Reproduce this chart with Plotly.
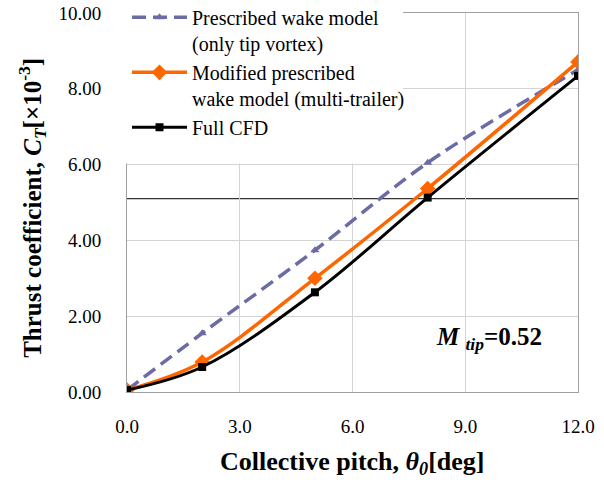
import plotly.graph_objects as go

pitch = [0.0, 2.0, 5.0, 8.0, 12.0]
ct_prescribed = [0.05, 1.55, 3.74, 6.05, 8.50]
ct_modified = [0.05, 0.79, 3.00, 5.37, 8.71]
ct_full_cfd = [0.05, 0.66, 2.63, 5.13, 8.34]
ref_line_ct = 5.10

x_ticks = [0, 3, 6, 9, 12]
y_ticks = [0, 2, 4, 6, 8, 10]

FONT = "Liberation Serif"

fig = go.Figure()
fig.add_trace(go.Scatter(
    x=pitch, y=ct_prescribed, mode="lines+markers",
    name="Prescribed wake model<br>(only tip vortex)",
    line=dict(color="#6b6ba6", width=3.5, dash="14px,7px", shape="spline", smoothing=1),
    marker=dict(symbol="triangle-up", size=8, color="#6b6ba6"),
))
fig.add_trace(go.Scatter(
    x=pitch, y=ct_modified, mode="lines+markers",
    name="Modified prescribed<br>wake model (multi-trailer)",
    line=dict(color="#ff6600", width=3.5, shape="spline", smoothing=1),
    marker=dict(symbol="diamond", size=12, color="#ff6600"),
))
fig.add_trace(go.Scatter(
    x=pitch, y=ct_full_cfd, mode="lines+markers",
    name="Full CFD",
    line=dict(color="#000000", width=3, shape="spline", smoothing=1),
    marker=dict(symbol="square", size=8, color="#000000"),
))

# white cover behind the legend (hides grid/frame like the original)
fig.add_shape(type="rect", xref="paper", yref="paper",
              x0=-0.01, x1=0.612, y0=0.603, y1=1.05,
              fillcolor="white", line=dict(width=0), layer="above")
# horizontal reference line
fig.add_shape(type="line", xref="paper", yref="y",
              x0=0, x1=1, y0=ref_line_ct, y1=ref_line_ct,
              line=dict(color="black", width=1), layer="below")

fig.add_annotation(
    x=9.62, y=1.4, xref="x", yref="y", showarrow=False,
    text="<b><i>M</i></b> <sub><b><i>tip</i></b></sub><b>=0.52</b>",
    font=dict(family=FONT, size=25, color="black"),
)
# axis titles
fig.add_annotation(
    x=0.5, y=-0.187, xref="paper", yref="paper", showarrow=False,
    xanchor="center", yanchor="middle",
    text="<b>Collective pitch, <i>θ</i></b><sub><b><i>0</i></b></sub><b>[deg]</b>",
    font=dict(family=FONT, size=26, color="black"),
)
fig.add_annotation(
    x=-0.2106, y=0.486, xref="paper", yref="paper", showarrow=False,
    xanchor="center", yanchor="middle", textangle=-90,
    text="<b>Thrust coefficient, <i>C</i></b><sub><b><i>T</i></b></sub><b>[×10<sup>-3</sup>]</b>",
    font=dict(family=FONT, size=25, color="black"),
)

fig.update_layout(
    width=604, height=482,
    margin=dict(l=127, r=26, t=13, b=90, autoexpand=False),
    paper_bgcolor="white", plot_bgcolor="white",
    font=dict(family=FONT, size=19, color="black"),
    showlegend=True,
    legend=dict(
        x=0.0, y=1.04, xanchor="left", yanchor="top",
        bgcolor="rgba(0,0,0,0)", borderwidth=0,
        font=dict(family=FONT, size=20, color="black"),
        valign="top", itemwidth=55, tracegroupgap=0,
    ),
    xaxis=dict(
        range=[0, 12], tickvals=x_ticks, tickformat=".1f",
        showgrid=True, gridcolor="#d4d4d4", gridwidth=1,
        showline=True, linecolor="#a0a0a0", linewidth=1, mirror=True,
        ticks="", ticklabelstandoff=17, zeroline=False, automargin=False,
        ticklabeloverflow="allow",
    ),
    yaxis=dict(
        range=[0, 10], tickvals=y_ticks, tickformat=".2f",
        showgrid=True, gridcolor="#d4d4d4", gridwidth=1,
        showline=True, linecolor="#a0a0a0", linewidth=1, mirror=True,
        ticks="", ticklabelstandoff=21, zeroline=False, automargin=False,
        ticklabeloverflow="allow",
    ),
)

fig.write_html("out.html", config={"displayModeBar": False},
               post_script="document.body.style.margin='0';")
